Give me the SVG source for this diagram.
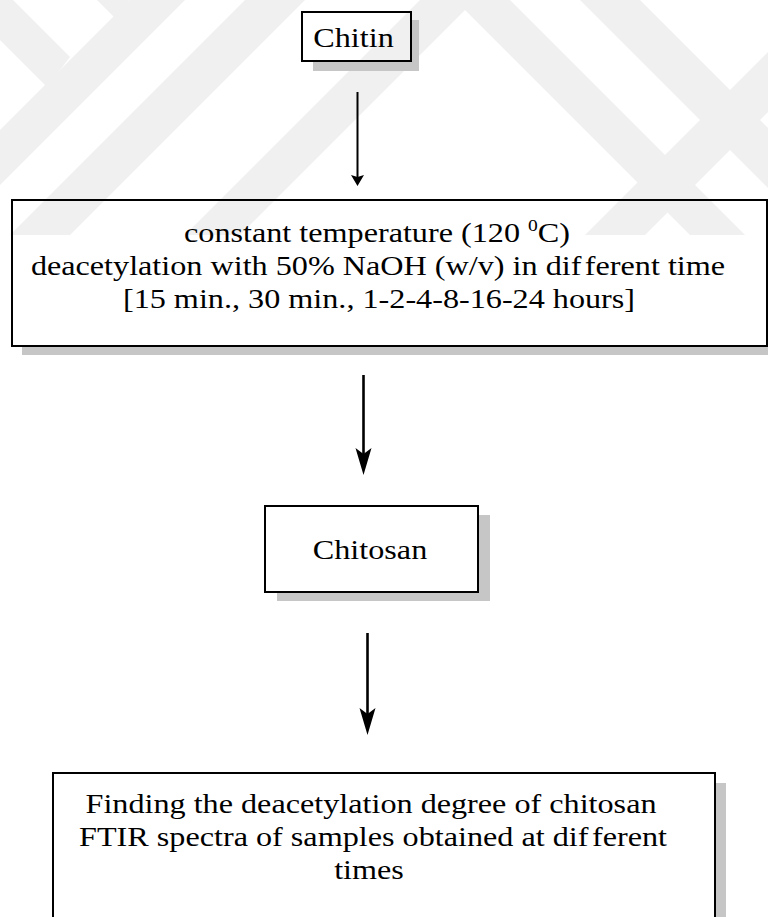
<svg xmlns="http://www.w3.org/2000/svg" width="768" height="917" viewBox="0 0 768 917">
  <style>
    .box { fill: none; stroke: #000; stroke-width: 2; }
    .shadow { fill: #c6c6c6; }
    .lbl { font-family: "Liberation Serif", "Times New Roman", serif; font-size: 28px; fill: #000; text-anchor: middle; }
    .link { stroke: #000; fill: none; }
    .mark { fill: #f0f0f0; }
  </style>
  <defs>
    <marker id="headSmall" markerUnits="userSpaceOnUse" markerWidth="12" markerHeight="14" refX="2" refY="6.5" orient="auto">
      <path d="M0,0 L11,6.5 L0,13 L2,6.5 z" fill="#000"/>
    </marker>
    <marker id="headLarge" markerUnits="userSpaceOnUse" markerWidth="28" markerHeight="17" refX="6" refY="8" orient="auto">
      <path d="M0,0 L27,8 L0,16 L6,8 z" fill="#000"/>
    </marker>
    <clipPath id="markClip">
      <rect x="0" y="0" width="768" height="235"/>
    </clipPath>
  </defs>

  <rect width="768" height="917" fill="#fff"/>

  <!-- faint background emblem: diagonal bands -->
  <g id="emblem" clip-path="url(#markClip)">
    <polygon class="mark" points="-40,0 13,0 70,57 47,87 -40,0"/>
    <polygon class="mark" points="97,0 130,0 115,18"/>
    <polygon class="mark" points="130,0 185,0 0,185 0,130"/>
    <polygon class="mark" points="245,0 305,0 0,305 0,245"/>
    <polygon class="mark" points="420,0 475,0 240,235 185,235"/>
    <polygon class="mark" points="455,0 510,0 745,235 690,235"/>
    <polygon class="mark" points="580,0 640,0 768,128 768,188"/>
    <polygon class="mark" points="768,52 768,112 645,235 585,235"/>
  </g>

  <!-- connectors -->
  <g id="connectors">
    <line class="link" x1="357.5" y1="92" x2="357.5" y2="177" stroke-width="2" marker-end="url(#headSmall)"/>
    <line class="link" x1="363.5" y1="375" x2="363.5" y2="454" stroke-width="2.6" marker-end="url(#headLarge)"/>
    <line class="link" x1="367.5" y1="633" x2="367.5" y2="714" stroke-width="2.6" marker-end="url(#headLarge)"/>
  </g>

  <!-- start material -->
  <g id="chitin">
    <polygon class="shadow" points="411,20 419,20 419,71 313,71 313,61 411,61"/>
    <rect class="box" x="302" y="12" width="109" height="49"/>
    <text class="lbl" transform="translate(353.5 47) scale(1.15 1)">Chitin</text>
  </g>

  <!-- deacetylation step -->
  <g id="deacetylation">
    <polygon class="shadow" points="767,210 768,210 768,355 22,355 22,346 767,346"/>
    <rect class="box" x="12" y="200" width="755" height="146"/>
    <text class="lbl" transform="translate(377 242) scale(1.15 1)">constant temperature (120 <tspan font-size="17" dy="-11">0</tspan><tspan dy="11">C)</tspan></text>
    <text class="lbl" transform="translate(378 275) scale(1.15 1)">deacetylation with 50% NaOH (w/v) in dif<tspan dx="3">f</tspan>erent time</text>
    <text class="lbl" transform="translate(379 308) scale(1.15 1)">[15 min., 30 min., 1-2-4-8-16-24 hours]</text>
  </g>

  <!-- product -->
  <g id="chitosan">
    <polygon class="shadow" points="478,515 490,515 490,601 277,601 277,592 478,592"/>
    <rect class="box" x="265" y="506" width="213" height="86"/>
    <text class="lbl" transform="translate(370 559) scale(1.15 1)">Chitosan</text>
  </g>

  <!-- analysis step -->
  <g id="analysis">
    <polygon class="shadow" points="716,783 726,783 726,917 716,917"/>
    <rect class="box" x="53" y="773" width="662" height="160" stroke-width="2.5"/>
    <text class="lbl" transform="translate(371 813) scale(1.15 1)">Finding the deacetylation degree of chitosan</text>
    <text class="lbl" transform="translate(373 846) scale(1.15 1)">FTIR spectra of samples obtained at dif<tspan dx="3">f</tspan>erent</text>
    <text class="lbl" transform="translate(369 879) scale(1.15 1)">times</text>
  </g>
</svg>
